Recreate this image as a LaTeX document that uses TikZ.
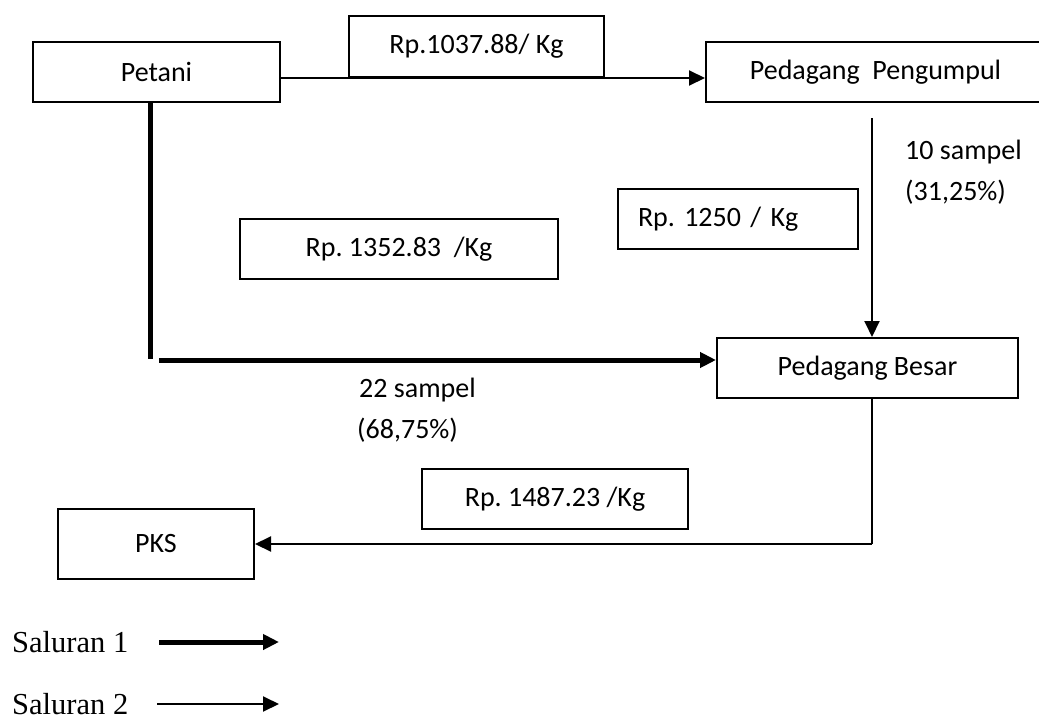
\documentclass[tikz,border=0pt]{standalone}
\usepackage{fontspec}
\setmainfont{Carlito}
\newfontfamily\legendfont{Liberation Serif}
\usetikzlibrary{arrows.meta,positioning,calc}
\tikzset{
  box/.style={rectangle, draw, line width=2pt, minimum height=60pt,
    inner sep=0pt, font=\fontsize{28}{34}\selectfont},
  note/.style={anchor=west, inner sep=0pt, font=\fontsize{28}{34}\selectfont},
  legend/.style={anchor=base west, inner sep=0pt,
    font=\legendfont\fontsize{30.5}{36}\selectfont},
  saluran1/.style={line width=5pt, -{Triangle[length=16pt,width=15pt]}},
  saluran2/.style={line width=2pt, -{Triangle[length=16pt,width=15pt]}},
  thickline/.style={line width=5pt},
  thinline/.style={line width=2pt}
}

\begin{document}
\frenchspacing
\begin{tikzpicture}[x=1pt, y=-1pt]
\useasboundingbox (0,0) rectangle (1039,720);
% nodes
\node[box, minimum width=247pt] (petani) at (156.5,72) {Petani};
\node[box, minimum width=255pt, minimum height=61pt] (harga1) at (476.5,46.5) {Rp.1037.88/ Kg};
\node[box, minimum width=339pt] (pengumpul) at (875.5,72) {Pedagang~~Pengumpul};
\node[box, minimum width=240pt, text width=200pt, align=left] (harga2) at (738,219) {Rp. 1250 / Kg};
\node[box, minimum width=318pt] (harga3) at (399,249) {Rp. 1352.83~~/Kg};
\node[box, minimum width=301pt] (besar) at (867.5,368) {Pedagang Besar};
\node[box, minimum width=266pt] (harga4) at (555,499) {Rp. 1487.23 /Kg};
\node[box, minimum width=196pt, minimum height=70pt] (pks) at (156,544) {PKS};
% labels
\node[note] (n10) at (905,152) {10 sampel};
\node[note] (p31) at (905,192) {(31,25\%)};
\node[note] (n22) at (359,390) {22 sampel};
\node[note] (p68) at (357,430) {(68,75\%)};
% saluran 2
\draw[saluran2] ([yshift=-6pt]petani.east) -- ([yshift=-6pt]pengumpul.west);
\coordinate (turun) at ([xshift=-3.5pt,yshift=-15pt]pengumpul.south);
\draw[saluran2] (turun) -- (turun |- besar.north);
\coordinate (belok) at ([xshift=4.5pt]besar.south);
\draw[thinline] (belok) -- (belok |- pks.east) coordinate (sudut);
\draw[saluran2] (sudut) -- (pks.east);
% saluran 1
\coordinate (bawah) at (150,359);
\coordinate (mulai) at (159,360);
\draw[thickline] ([xshift=-6.5pt]petani.south) -- (bawah);
\draw[saluran1] (mulai) -- ([yshift=8pt]besar.west);
% keterangan
\node[legend] (ket1) at (12,652) {Saluran 1};
\node[legend] (ket2) at (12,714) {Saluran 2};
\coordinate (k1) at (159,642);
\coordinate (k2) at (157,704);
\draw[saluran1] (k1) -- ++(120,0);
\draw[saluran2] (k2) -- ++(122,0);
\end{tikzpicture}
\end{document}
